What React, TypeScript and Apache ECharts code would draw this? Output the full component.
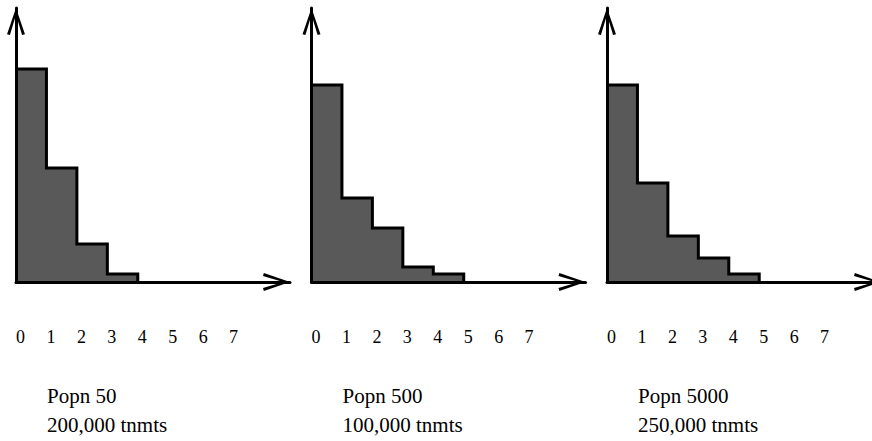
import React, { useEffect, useRef } from "react";
import * as echarts from "echarts";

// Bin labels shown under each x-axis
const binLabels = [0, 1, 2, 3, 4, 5, 6, 7];

// Relative heights of the histogram bins (axis max = 1)
const popn50 = [0.777, 0.416, 0.139, 0.029];
const popn500 = [0.719, 0.307, 0.197, 0.055, 0.029];
const popn5000 = [0.719, 0.361, 0.168, 0.088, 0.029];

const panelTitles = ["Popn 50\n200,000 tnmts", "Popn 500\n100,000 tnmts", "Popn 5000\n250,000 tnmts"];
const panelData = [popn50, popn500, popn5000];

const FONT = "Liberation Serif";
const CHEVRON = "path://M8 -1.5 L16.94 24.57 L14.06 25.43 L8 5.24 L1.94 25.43 L-0.94 24.57 Z";

export default function App() {
  const ref = useRef<HTMLDivElement>(null);
  useEffect(() => {
    if (!ref.current) return;
    const chart = echarts.init(ref.current, null, { renderer: "svg" });
    const lefts = [16, 311.5, 607];
    const size = 274;
    const maxLabel = binLabels[binLabels.length - 1];

    const axisLine = {
      show: true,
      onZero: false,
      symbol: ["none", CHEVRON],
      symbolSize: [18, 27],
      symbolOffset: [0, -13.5],
      lineStyle: { color: "#000", width: 3 },
    };

    const option: any = {
      animation: false,
      backgroundColor: "#fff",
      textStyle: { fontFamily: FONT },
      title: panelTitles.map((t, i) => ({
        text: t,
        left: lefts[i] + 31,
        top: 381,
        padding: 0,
        textStyle: {
          fontFamily: FONT,
          fontSize: 21,
          fontWeight: "normal",
          color: "#000",
          lineHeight: 29,
        },
      })),
      grid: lefts.map((l) => ({
        left: l,
        top: 8,
        width: size,
        height: size,
        containLabel: false,
        outerBoundsMode: "none",
      })),
      xAxis: lefts.map((_, i) => ({
        type: "value",
        gridIndex: i,
        min: 0,
        max: 9,
        interval: 1,
        z: 3,
        axisLine,
        axisTick: { show: false },
        splitLine: { show: false },
        axisLabel: {
          show: true,
          margin: 55,
          align: "left",
          verticalAlign: "middle",
          fontFamily: FONT,
          fontSize: 18,
          color: "#000",
          formatter: (v: number) => (binLabels.includes(v) && v <= maxLabel ? String(v) : ""),
        },
      })),
      yAxis: lefts.map((_, i) => ({
        type: "value",
        gridIndex: i,
        min: 0,
        max: 1,
        z: 3,
        axisLine,
        axisTick: { show: false },
        splitLine: { show: false },
        axisLabel: { show: false },
      })),
      series: panelData.map((vals, i) => ({
        type: "line",
        xAxisIndex: i,
        yAxisIndex: i,
        step: "end",
        symbol: "none",
        clip: false,
        data: [...vals.map((v, k) => [k, v]), [vals.length, 0]],
        lineStyle: { color: "#000", width: 3, join: "miter" },
        areaStyle: { color: "#595959", opacity: 1 },
      })),
    };
    chart.setOption(option);
    return () => chart.dispose();
  }, []);
  return (
    <div
      ref={ref}
      style={{ position: "fixed", left: 0, top: 0, width: 872, height: 441, background: "#fff" }}
    />
  );
}
